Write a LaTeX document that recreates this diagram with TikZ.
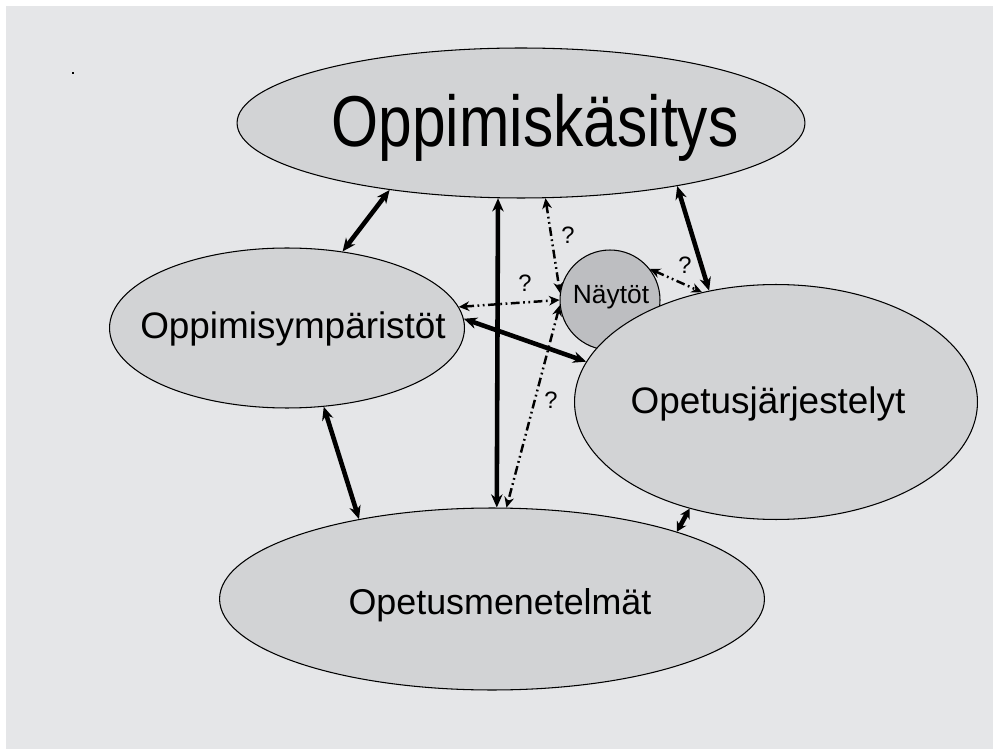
\documentclass[tikz,border=0pt]{standalone}
\usepackage{fontspec}
\setmainfont{Liberation Sans}
\usetikzlibrary{arrows.meta,shapes.geometric}
\definecolor{paper}{HTML}{E5E6E8}
\definecolor{blobgray}{HTML}{D2D3D5}
\definecolor{dotgray}{HTML}{BDBEC1}
\begin{document}
\begin{tikzpicture}[x=0.02cm,y=-0.02cm,
  blob/.style={ellipse,draw,line width=0.6pt,fill=blobgray,inner sep=0pt},
  link/.style={line width=2.6pt,{Stealth[length=7.5pt,width=6.5pt]}-{Stealth[length=7.5pt,width=6.5pt]}},
  shortlink/.style={line width=2.6pt,{Stealth[length=5.5pt,width=6pt]}-{Stealth[length=5.5pt,width=6pt]}},
  maybe/.style={line width=1.4pt,dash pattern=on 5pt off 2pt on 1pt off 2pt on 1pt off 2pt,
    {Stealth[length=6pt,width=5.5pt]}-{Stealth[length=6pt,width=5.5pt]}},
  big/.style={anchor=base,font=\fontsize{21}{25}\selectfont},
  q/.style={anchor=base,font=\fontsize{13.5}{16}\selectfont}]
  % Page and grey backdrop
  \useasboundingbox (0,0) rectangle (993,749);
  \fill[paper] (6,6) rectangle (993,749);
  \fill[black] (72,72) rectangle (74,74);
  % Ellipses
  \node[blob,minimum width=11.36cm,minimum height=3cm] (kasitys) at (521,123) {};
  \node[blob,minimum width=7.1cm,minimum height=3.2cm] (ymparisto) at (287,328) {};
  \node[blob,circle,fill=dotgray,minimum size=2cm] (naytot) at (610,300) {};
  \node[blob,minimum width=8.06cm,minimum height=4.7cm] (jarjestely) at (776,402) {};
  \node[blob,minimum width=10.9cm,minimum height=3.64cm] (menetelma) at (492,599) {};
  % Texts
  \node[anchor=base,font=\fontsize{41}{48}\selectfont] (kasitys-t) at (535,147) {\scalebox{0.84}[1]{Oppimiskäsitys}};
  \node[big] (ymparisto-t) at (293,339) {Oppimisympäristöt};
  \node[anchor=base,font=\fontsize{15}{18}\selectfont] (naytot-t) at (611,304) {Näytöt};
  \node[big] (jarjestely-t) at (768,414) {Opetusjärjestelyt};
  \node[big,font=\fontsize{20.4}{24}\selectfont] (menetelma-t) at (500,614) {Opetusmenetelmät};
  % Solid links
  \draw[link] (kasitys.-153) -- (ymparisto.54);
  \draw[link] (kasitys.-107) -- (menetelma.87);
  \draw[link] (kasitys.-22.6) -- (jarjestely.121);
  \draw[link] (ymparisto.3) -- (jarjestely.168);
  \draw[link] (ymparisto.-65) -- (menetelma.149);
  \draw[shortlink] (jarjestely.-129) -- (menetelma.20);
  % Uncertain links
  \draw[maybe] (kasitys.-72) -- (naytot.172);
  \draw[maybe] (ymparisto.7) -- (naytot.180);
  \draw[maybe] (naytot.38) -- (jarjestely.124);
  \draw[maybe] (naytot.186) -- (menetelma.81);
  % Question marks
  \node[q] (q1) at (568,244) {?};
  \node[q] (q2) at (525,292) {?};
  \node[q] (q3) at (685,274) {?};
  \node[q] (q4) at (551,409) {?};
\end{tikzpicture}
\end{document}
